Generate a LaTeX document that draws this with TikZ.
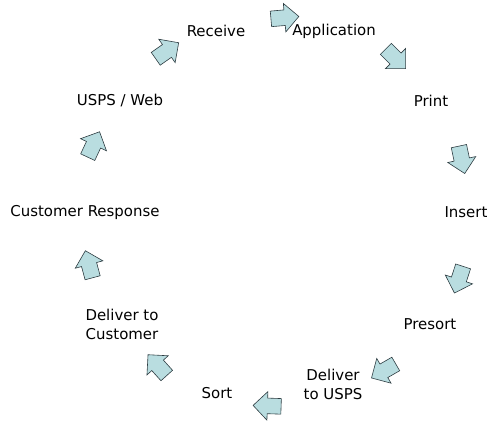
\documentclass[tikz,border=0pt]{standalone}
\usepackage{fontspec}
\setmainfont{DejaVu Sans}
\usetikzlibrary{shapes.arrows,positioning}
\definecolor{arrowfill}{RGB}{185,221,224}
\definecolor{arrowline}{RGB}{45,60,65}

\begin{document}
\begin{tikzpicture}[
    x=1bp, y=-1bp,
    stage/.style={align=center, font=\fontsize{15}{19}\selectfont, inner sep=1pt},
    bluearrow/.style={single arrow, draw=arrowline, fill=arrowfill, line width=0.6pt,
        inner sep=0pt, text height=8bp, text depth=7bp, text width=0pt,
        minimum height=28bp, minimum width=28bp,
        single arrow head extend=6.5bp, single arrow head indent=0pt}
]
\useasboundingbox (0,0) rectangle (499,424);

% Stages
\node[stage] (receive) at (216,31) {Receive};
\node[stage] (application) at (334,31) {Application};
\node[stage] (print) at (431,101) {Print};
\node[stage] (insert) at (466,212) {Insert};
\node[stage] (presort) at (430,324) {Presort};
\node[stage] (delusps) at (333,384) {Deliver\\to USPS};
\node[stage] (sort) at (217,393) {Sort};
\node[stage] (delcust) at (122,324) {Deliver to\\Customer};
\node[stage] (response) at (85,212) {Customer Response};
\node[stage] (web) at (120,101) {USPS / Web};

% Arrows
\node[bluearrow, rotate=5] (arr1) at (281,18) {};
\node[bluearrow, rotate=-45] (arr2) at (393,56) {};
\node[bluearrow, rotate=-78] (arr3) at (461,156) {};
\node[bluearrow, rotate=-108] (arr4) at (460,276) {};
\node[bluearrow, rotate=210] (arr5) at (387,369) {};
\node[bluearrow, rotate=178] (arr6) at (271,406) {};
\node[bluearrow, rotate=132] (arr7) at (160,368) {};
\node[bluearrow, rotate=105] (arr8) at (90,268) {};
\node[bluearrow, rotate=65] (arr9) at (92,148) {};
\node[bluearrow, rotate=35] (arr10) at (164,53) {};

\end{tikzpicture}
\end{document}
